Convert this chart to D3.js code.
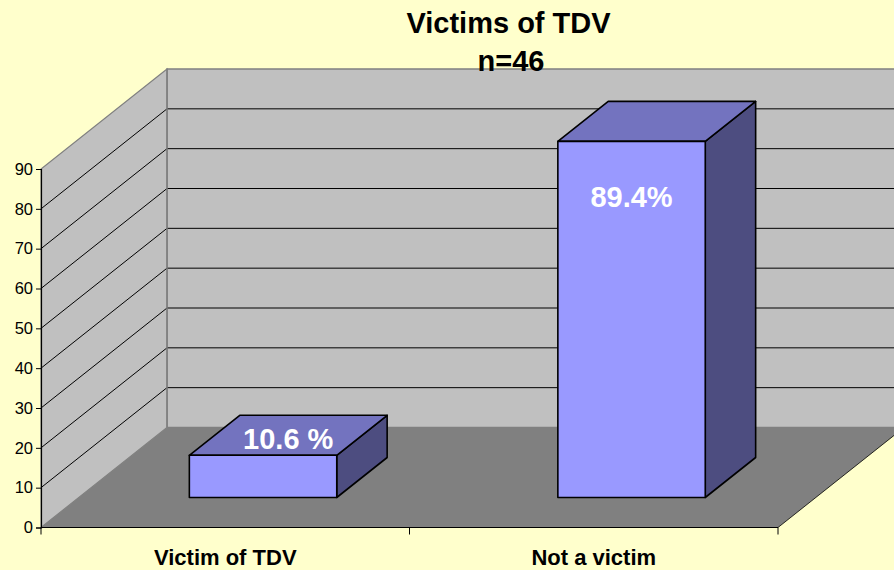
<!DOCTYPE html>
<html><head><meta charset="utf-8">
<script src="https://cdn.jsdelivr.net/npm/d3@7/dist/d3.min.js"></script>
<style>html,body{margin:0;padding:0;background:#FFFFCC;overflow:hidden}svg{display:block}text{font-family:"Liberation Sans",Arial,sans-serif}</style>
</head><body><svg id="c" width="894" height="570"></svg>
<script>
const categories = ["Victim of TDV", "Not a victim"];
const values = [10.6, 89.4];
const valueLabels = ["10.6 %", "89.4%"];
const yTicks = [0,10,20,30,40,50,60,70,80,90];
const titleLines = ["Victims of TDV", "n=46"];

const svg = d3.select("#c");
const W = 894, H = 570;
const y = d3.scaleLinear().domain([0,90]).range([527.5,169]);
const x = d3.scaleBand().domain(categories).range([41,778]).paddingInner(0.6).paddingOuter(0.3);
// depth axis: 0 = front of the floor, 1 = back wall
const dx = d3.scaleLinear().domain([0,1]).range([0,126]);
const dy = d3.scaleLinear().domain([0,1]).range([0,-100]);
const x0 = x.range()[0], x1 = x.range()[1];
const P = (px,py,d)=>[px+dx(d), py+dy(d)];
const poly = pts => "M"+pts.map(p=>p.join(",")).join("L")+"Z";

svg.append("rect").attr("width",W).attr("height",H).attr("fill","#FFFFCC");

// walls and floor
svg.append("path").attr("d",poly([P(x0,y(90),1),P(x1,y(90),1),P(x1,y(0),1),P(x0,y(0),1)]))
  .attr("fill","#C0C0C0").attr("stroke","#808080").attr("stroke-width",1.5);
svg.append("path").attr("d",poly([P(x0,y(0),0),P(x0,y(0),1),P(x0,y(90),1),P(x0,y(90),0)]))
  .attr("fill","#C0C0C0").attr("stroke","#808080").attr("stroke-width",1.2);
svg.append("path").attr("d",poly([P(x0,y(0),0),P(x0,y(0),1),P(x1,y(0),1),P(x1,y(0),0)]))
  .attr("fill","#808080");

// gridlines
const grid = yTicks.filter(t=>t>0 && t<90);
svg.append("g").selectAll("path").data(grid).join("path")
  .attr("fill","none").attr("stroke","#000").attr("stroke-width",1)
  .attr("d",t=>"M"+[P(x0,y(t),0),P(x0,y(t),1),P(x1,y(t),1)].map(p=>p.join(",")).join("L"));
// wall edges over gridlines
svg.append("line").attr("x1",P(x0,0,1)[0]).attr("x2",P(x0,0,1)[0])
  .attr("y1",P(0,y(90),1)[1]).attr("y2",P(0,y(0),1)[1]).attr("stroke","#808080").attr("stroke-width",1.5);
svg.append("line").attr("x1",P(x0,0,1)[0]).attr("x2",P(x1,0,1)[0])
  .attr("y1",P(0,y(0),1)[1]).attr("y2",P(0,y(0),1)[1]).attr("stroke","#808080").attr("stroke-width",1);
// right floor edge
svg.append("line").attr("x1",x1).attr("y1",y(0)).attr("x2",P(x1,0,1)[0]).attr("y2",P(0,y(0),1)[1])
  .attr("stroke","#000").attr("stroke-width",0.8);

// bars
const dA = 0.30, dB = 0.70;
const bars = svg.append("g").selectAll("g").data(categories.map((c,i)=>({c,v:values[i]}))).join("g")
  .attr("stroke","#000").attr("stroke-width",1.6).attr("stroke-linejoin","round");
bars.append("path").attr("fill","#4D4D80").attr("d",d=>{const r=x(d.c)+x.bandwidth();
  return poly([P(r,y(0),dA),P(r,y(d.v),dA),P(r,y(d.v),dB),P(r,y(0),dB)]);});
bars.append("path").attr("fill","#7373BF").attr("d",d=>{const l=x(d.c),r=l+x.bandwidth();
  return poly([P(l,y(d.v),dA),P(r,y(d.v),dA),P(r,y(d.v),dB),P(l,y(d.v),dB)]);});
bars.append("path").attr("fill","#9999FF").attr("d",d=>{const l=x(d.c),r=l+x.bandwidth();
  return poly([P(l,y(0),dA),P(r,y(0),dA),P(r,y(d.v),dA),P(l,y(d.v),dA)]);});

// axes
const fontStack = '"Liberation Sans",Arial,sans-serif';
const gy = svg.append("g").attr("transform",`translate(${x0},0)`)
  .call(d3.axisLeft(y).tickValues(yTicks).tickSize(5).tickPadding(3));
gy.select(".domain").attr("stroke","#000").attr("stroke-width",1.2);
gy.selectAll("line").attr("stroke","#000");
gy.selectAll("text").attr("font-size",16.5).attr("fill","#000").style("font-family",fontStack);

const gx = svg.append("g").attr("transform",`translate(0,${y(0)})`)
  .call(d3.axisBottom(x).tickSize(0).tickPadding(22));
gx.select(".domain").remove();
gx.selectAll("text").attr("font-size",22).attr("font-weight","bold").attr("fill","#000")
  .style("font-family",fontStack);
svg.append("line").attr("x1",x0).attr("x2",x1).attr("y1",y(0)).attr("y2",y(0)).attr("stroke","#000").attr("stroke-width",1.2);
const step = x.step();
svg.append("g").selectAll("line").data(d3.range(categories.length+1)).join("line")
  .attr("x1",i=>x0+i*step).attr("x2",i=>x0+i*step).attr("y1",y(0)).attr("y2",y(0)+7)
  .attr("stroke","#000");

// value labels: first on the bar's top face, second on its front face
const labelDepth = [(dA+dB)/2, dA];
const labelDrop = [4, 55];
svg.append("g").selectAll("text").data(valueLabels).join("text")
  .attr("x",(d,i)=>P(x(categories[i])+x.bandwidth()/2,0,labelDepth[i])[0])
  .attr("y",(d,i)=>P(0,y(values[i]),labelDepth[i])[1]+labelDrop[i])
  .attr("dy","0.35em").attr("text-anchor","middle")
  .attr("font-size",29).attr("font-weight","bold").attr("fill","#fff").text(d=>d);

// title
const titleX = [508.5, 511];
svg.append("g").selectAll("text").data(titleLines).join("text")
  .attr("x",(d,i)=>titleX[i]).attr("y",(d,i)=>33+i*38).attr("text-anchor","middle")
  .attr("font-size",29).attr("font-weight","bold").attr("fill","#000").text(d=>d);
</script></body></html>
